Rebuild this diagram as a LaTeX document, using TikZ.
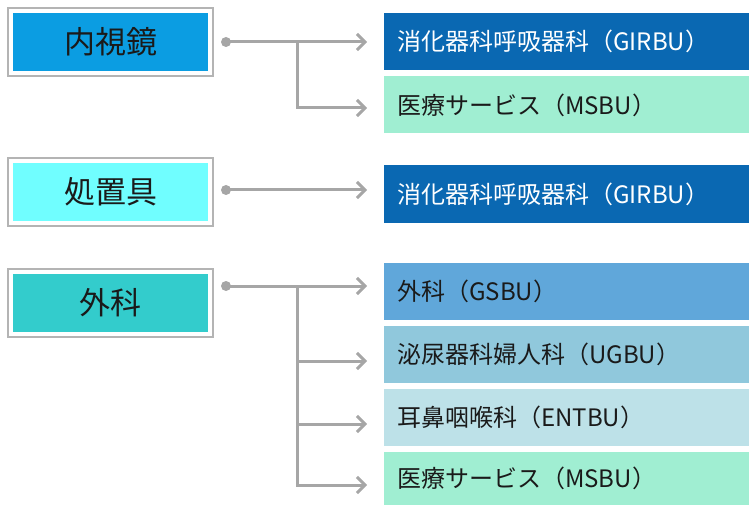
\documentclass[tikz,border=0pt]{standalone}
\usepackage{fontspec}
\setmainfont{Noto Sans CJK JP}
\usetikzlibrary{arrows.meta}
\definecolor{framegray}{HTML}{B4B4B4}
\definecolor{linegray}{HTML}{A6A6A6}
\definecolor{cNaishi}{HTML}{0B9DE2}
\definecolor{cShochi}{HTML}{70FEFF}
\definecolor{cGeka}{HTML}{33CCCC}
\definecolor{cGIRBU}{HTML}{0A68B2}
\definecolor{cMSBU}{HTML}{A0EED2}
\definecolor{cGSBU}{HTML}{60A7DA}
\definecolor{cUGBU}{HTML}{90C8DC}
\definecolor{cENTBU}{HTML}{BDE1E8}
\definecolor{txt}{HTML}{1A1A1A}
\tikzset{
  leftbox/.style={minimum width=195pt, minimum height=58pt, inner sep=0pt, font=\fontsize{31}{34}\selectfont, text=txt},
  rightbox/.style={anchor=west, minimum width=365pt, minimum height=57pt, inner sep=0pt, text width=339pt, align=left, font=\fontsize{24}{27}\selectfont, text=txt},
  frameline/.style={draw=framegray, line width=2.2pt},
  conn/.style={draw=linegray, line width=3pt, -{Straight Barb[length=8pt,width=16pt,line width=3pt]}, shorten >=17pt},
  dot/.style={circle, fill=linegray, inner sep=0pt, minimum size=10pt}
}
\begin{document}
\begin{tikzpicture}[x=1pt,y=-1pt]
\useasboundingbox (0,0) rectangle (749,505);
% left boxes
\node[leftbox, fill=cNaishi] (L1) at (110.5,42) {内視鏡};
\node[leftbox, fill=cShochi] (L2) at (110.5,192) {処置具};
\node[leftbox, fill=cGeka] (L3) at (110.5,303) {外科};
\foreach \n in {L1,L2,L3}{
  \draw[frameline] ([shift={(-4.5,-4.5)}]\n.north west) rectangle ([shift={(4.5,4.5)}]\n.south east);
}
% right boxes
\node[rightbox, fill=cGIRBU, text=white] (R1) at (384,41.5) {消化器科呼吸器科（GIRBU）};
\node[rightbox, fill=cMSBU] (R2) at (384,105) {医療サービス（MSBU）};
\node[rightbox, fill=cGIRBU, text=white] (R3) at (384,194) {消化器科呼吸器科（GIRBU）};
\node[rightbox, fill=cGSBU] (R4) at (384,291) {外科（GSBU）};
\node[rightbox, fill=cUGBU] (R5) at (384,354.5) {泌尿器科婦人科（UGBU）};
\node[rightbox, fill=cENTBU] (R6) at (384,417) {耳鼻咽喉科（ENTBU）};
\node[rightbox, fill=cMSBU, minimum height=53pt] (R7) at (384,478.5) {医療サービス（MSBU）};
% connector origins
\coordinate (d1) at (226,42);
\coordinate (d2) at (226,190);
\coordinate (d3) at (226,286);
\coordinate (b1) at (297,42);
\coordinate (b3) at (297,286);
% group 1
\draw[conn] (d1) -- (d1 -| R1.west);
\draw[conn] (b1) |- ([yshift=-3pt]R2.west);
% group 2
\draw[conn] (d2) -- (d2 -| R3.west);
% group 3
\draw[conn] (d3) -- (d3 -| R4.west);
\draw[conn] (b3) |- ([yshift=-6.5pt]R5.west);
\draw[conn] (b3) |- ([yshift=-7pt]R6.west);
\draw[conn] (b3) |- ([yshift=-6.5pt]R7.west);
\node[dot] (p1) at (d1) {};
\node[dot] (p2) at (d2) {};
\node[dot] (p3) at (d3) {};
\end{tikzpicture}
\end{document}
